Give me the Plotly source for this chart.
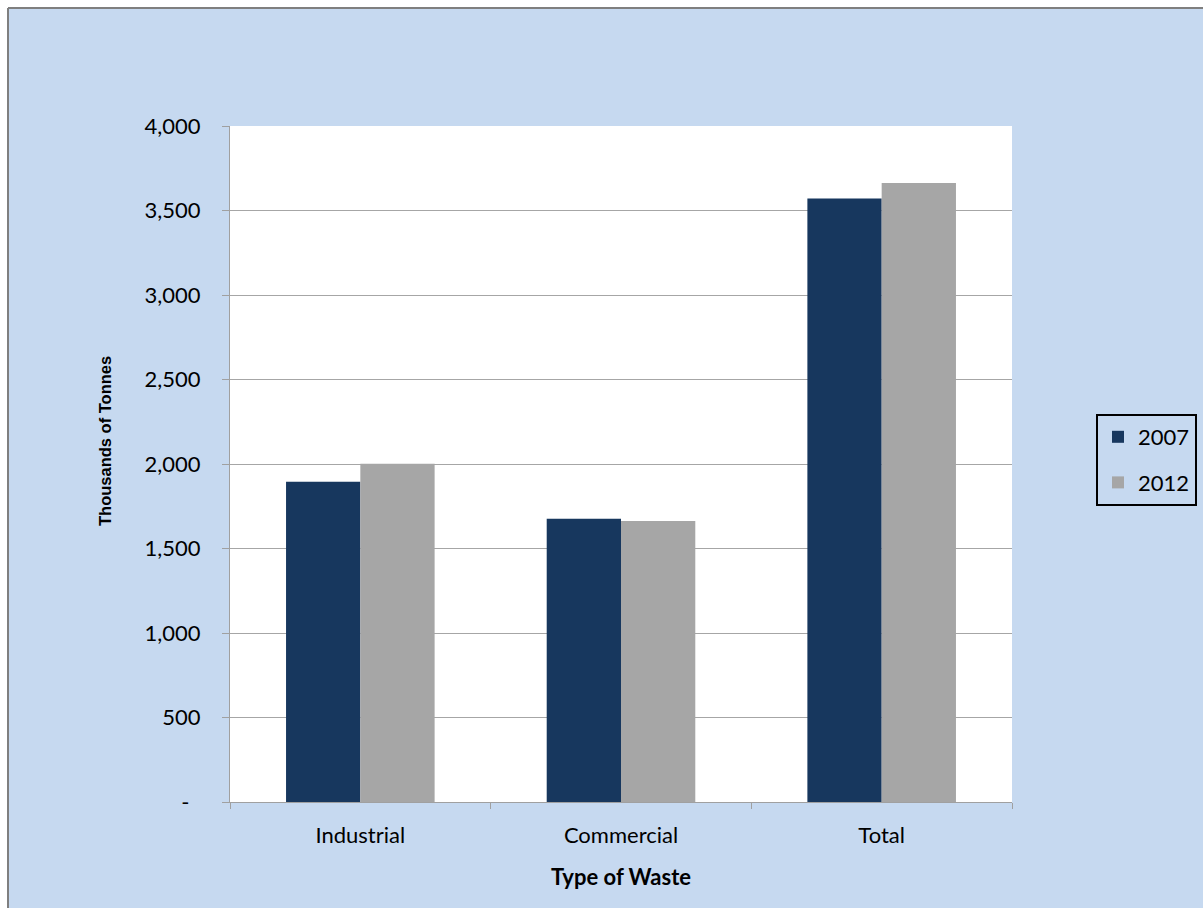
import plotly.graph_objects as go

# Waste arisings (thousands of tonnes) by type of waste
categories = ["Industrial", "Commercial", "Total"]
values_2007 = [1895, 1676, 3571]
values_2012 = [2001, 1662, 3663]

y_tickvals = [0, 500, 1000, 1500, 2000, 2500, 3000, 3500, 4000]
y_ticktext = ["-\u00a0\u00a0", "500", "1,000", "1,500", "2,000", "2,500", "3,000", "3,500", "4,000"]

W, H = 1203, 908
L, R, T, B = 230, 191, 126, 106
PW, PH = W - L - R, H - T - B


def px_x(p):
    return (p - L) / PW


def px_y(p):
    return (H - B - p) / PH


TICK_FONT = dict(family="Lato, Calibri, sans-serif", size=22, color="#000000")

fig = go.Figure()
fig.add_trace(go.Bar(
    name="2007", x=categories, y=values_2007,
    marker=dict(color="#17375E", line=dict(width=0)),
    legendgroup="a",
))
fig.add_trace(go.Bar(
    name="2012", x=categories, y=values_2012,
    marker=dict(color="#A6A6A6", line=dict(width=0)),
    legendgroup="b",
))

fig.update_layout(
    width=W, height=H,
    margin=dict(l=L, r=R, t=T, b=B, pad=0, autoexpand=False),
    paper_bgcolor="#C6D9F0",
    plot_bgcolor="#FFFFFF",
    barmode="group",
    bargap=0.43,
    bargroupgap=0,
    font=TICK_FONT,
    showlegend=True,
    legend=dict(
        x=px_x(1096), y=px_y(414), xanchor="left", yanchor="top",
        bgcolor="rgba(0,0,0,0)", bordercolor="#000000", borderwidth=2,
        font=TICK_FONT, tracegroupgap=14, traceorder="grouped",
        itemwidth=30,
    ),
    xaxis=dict(
        type="category",
        showline=True, linecolor="#A0A0A0", linewidth=1,
        ticks="outside", tickson="boundaries", ticklen=6, tickcolor="#A0A0A0",
        tickfont=TICK_FONT, ticklabelstandoff=14,
        showgrid=False, zeroline=False,
    ),
    yaxis=dict(
        range=[0, 4000],
        tickvals=y_tickvals, ticktext=y_ticktext,
        showline=True, linecolor="#A0A0A0", linewidth=1,
        ticks="outside", ticklen=7, tickcolor="#A0A0A0",
        tickfont=TICK_FONT, ticklabelstandoff=17,
        showgrid=True, gridcolor="#A6A6A6", gridwidth=1,
        zeroline=False,
    ),
    shapes=[
        # white margin outside the chart frame
        dict(type="rect", xref="paper", yref="paper", layer="below",
             x0=px_x(-5), x1=px_x(8), y0=px_y(H + 5), y1=px_y(-5),
             fillcolor="#FFFFFF", line=dict(width=0)),
        dict(type="rect", xref="paper", yref="paper", layer="below",
             x0=px_x(-5), x1=px_x(W + 5), y0=px_y(8), y1=px_y(-5),
             fillcolor="#FFFFFF", line=dict(width=0)),
        # chart frame edges
        dict(type="line", xref="paper", yref="paper", layer="below",
             x0=px_x(8), x1=px_x(8), y0=px_y(H + 5), y1=px_y(8),
             line=dict(color="#7F7F7F", width=2)),
        dict(type="line", xref="paper", yref="paper", layer="below",
             x0=px_x(8), x1=px_x(W + 5), y0=px_y(8), y1=px_y(8),
             line=dict(color="#7F7F7F", width=2)),
    ],
    annotations=[
        dict(text="<b>Type of Waste</b>", xref="paper", yref="paper",
             x=px_x(621), y=px_y(876), xanchor="center", yanchor="middle",
             showarrow=False,
             font=dict(family="Lato, Calibri, sans-serif", size=22, color="#000000")),
        dict(text="<b>Thousands of Tonnes</b>", xref="paper", yref="paper",
             x=px_x(105), y=px_y(441), xanchor="center", yanchor="middle",
             textangle=-90, showarrow=False,
             font=dict(family="Liberation Sans, Arial, sans-serif", size=16.5, color="#000000")),
    ],
)

fig.write_html("out.html")
